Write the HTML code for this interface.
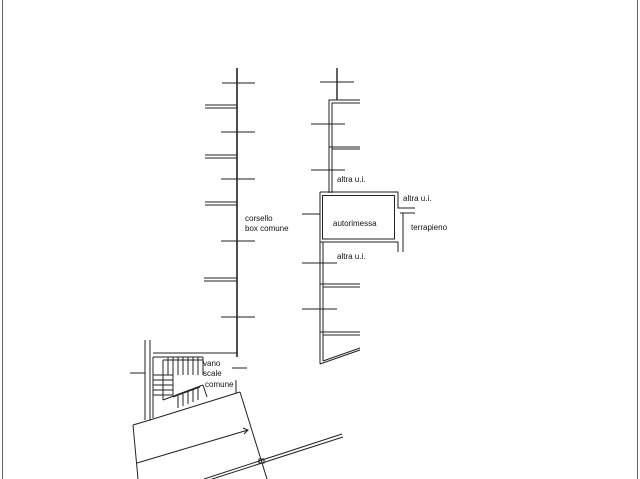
<!DOCTYPE html>
<html><head><style>
html,body{margin:0;padding:0;background:#fff;}
svg{display:block;}
text{font-family:"Liberation Sans",sans-serif;font-size:8px;fill:#111;}
</style></head><body>
<svg width="640" height="479" viewBox="0 0 640 479" xmlns="http://www.w3.org/2000/svg">
<g stroke="#222" fill="none" stroke-width="1">
<!-- border -->
<line x1="2.5" y1="0" x2="2.5" y2="479" stroke="#666"/>
<line x1="637.5" y1="0" x2="637.5" y2="479" stroke="#666"/>
<!-- left corridor wall -->
<line x1="237" y1="68" x2="237" y2="357" stroke-width="1.6"/>
<line x1="222" y1="83" x2="255" y2="83"/>
<line x1="221" y1="132" x2="255" y2="132"/>
<line x1="221" y1="179" x2="255" y2="179"/>
<line x1="221" y1="241" x2="255" y2="241"/>
<line x1="221" y1="317" x2="255" y2="317"/>
<path d="M205 105H237M205 108H237"/>
<path d="M205 155H237M205 158H237"/>
<path d="M205 202H237M205 205H237"/>
<path d="M204 278H237M204 281H237"/>
<!-- right wall upper -->
<line x1="337" y1="68" x2="337" y2="100" stroke-width="1.4"/>
<line x1="320" y1="82" x2="354" y2="82"/>
<path d="M329 193V100H360M332 193V103H360" />
<line x1="311" y1="124" x2="345" y2="124"/>
<path d="M329 147H360M332 149H360"/>
<line x1="311" y1="170" x2="345" y2="170"/>
<!-- autorimessa box -->
<path d="M320 192H398V208H415"/>
<rect x="322.5" y="195.5" width="72" height="43.5"/>
<path d="M320 192V242H398V252"/>
<path d="M400 213H415M403 213V252"/>
<!-- lower right wall -->
<path d="M320 242V364M323 242V361"/>
<line x1="302" y1="214" x2="320" y2="214"/>
<line x1="302" y1="263" x2="337" y2="263"/>
<line x1="302" y1="309" x2="337" y2="309"/>
<path d="M320 284H360M323 287H360"/>
<path d="M320 332H360M323 335H360"/>
<path d="M320 364L360 350M323 361L360 348"/>
<!-- stair area -->
<path d="M145 340V420M150 340V420M153 357V418"/>
<path d="M153 353H237M153 357H203"/>
<line x1="237" y1="353" x2="237" y2="357"/>
<line x1="130" y1="373" x2="145" y2="373"/>
<line x1="232" y1="368" x2="247" y2="368"/>
<path d="M163 360V400M163 360H203M168 357V375M173 357V375M178 357V375M183 357V375M188 357V375M193 357V375M198 357V375M203 357V375"/>
<path d="M153 375H173V395M153 380H173M153 385H173M153 390H173M153 395H173"/>
<path d="M163 400L203 385M173 397L200 387M178 396V408M183 394V406M188 392V404M193 390V402M198 388V400M203 385L207 397"/>
<line x1="236" y1="380" x2="236" y2="393"/>
<path d="M150 420L240 392M133 425L150 420"/>
<!-- lower slanted block -->
<path d="M133 425L138 479"/>
<path d="M240 392L267 479"/>
<path d="M137 463L248 430M243 428L248 430L244 434"/>
<path d="M204 479L342 434M206 481L343 437"/>
<rect x="259" y="459" width="5" height="4"/>
</g>
<text x="245" y="221">corsello</text>
<text x="245" y="231">box comune</text>
<text x="337" y="182">altra u.i.</text>
<text x="333" y="226">autorimessa</text>
<text x="403" y="201">altra u.i.</text>
<text x="411" y="230">terrapieno</text>
<text x="337" y="259">altra u.i.</text>
<text x="203" y="366">vano</text>
<text x="203" y="376">scale</text>
<text x="205" y="387">comune</text>
</svg>
</body></html>
